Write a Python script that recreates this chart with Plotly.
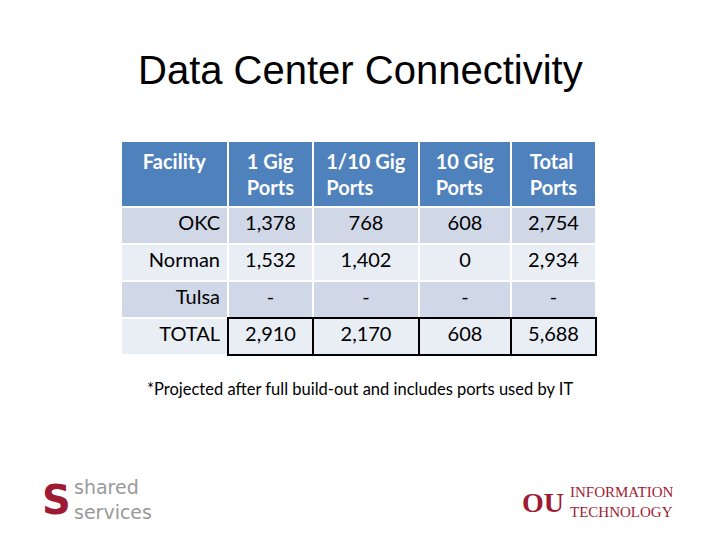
import plotly.graph_objects as go

headers = ["Facility", "1 Gig<br>Ports", "1/10 Gig<br>Ports", "10 Gig<br>Ports", "Total<br>Ports"]
facilities = ["OKC", "Norman", "Tulsa", "TOTAL"]
gig1 = ["1,378", "1,532", "-", "2,910"]
gig110 = ["768", "1,402", "-", "2,170"]
gig10 = ["608", "0", "-", "608"]
total = ["2,754", "2,934", "-", "5,688"]

W, H = 720, 540
OX, OY = 8, 8  # page offset compensation
def px(x): return (x - OX) / W
def py(y): return 1 - (y - OY) / H

rowfill = ["#D0D8E8", "#E9EDF4", "#D0D8E8", "#E9EDF4"]
font = "Lato, Open Sans, sans-serif"
first_line = ["white"] * 4
other_line = ["white", "white", "white", "black"]

fig = go.Figure(go.Table(
    columnwidth=[107, 85, 106, 92, 85],
    header=dict(values=[f"<b>{h}</b>" for h in headers], fill_color="#4F81BD",
                font=dict(color="white", size=20, family=font), align="center",
                height=63, line=dict(color="white", width=2)),
    cells=dict(values=[facilities, gig1, gig110, gig10, total],
               fill_color=[rowfill] * 5,
               font=dict(color="black", size=20, family=font),
               align=["right", "center", "center", "center", "center"],
               height=37,
               line=dict(color=[first_line] + [other_line] * 4, width=1.5)),
    domain=dict(x=[px(121), px(596)], y=[0.2, py(141)]),
))

def ann(text, x, y, size, family, color="black", xanchor="center", align="center"):
    return dict(text=text, x=px(x), y=py(y), xref="paper", yref="paper", xanchor=xanchor,
                yanchor="middle", showarrow=False, align=align,
                font=dict(family=family, size=size, color=color))

fig.update_layout(
    width=W, height=H, margin=dict(l=0, r=0, t=0, b=0),
    paper_bgcolor="white", plot_bgcolor="white",
    annotations=[
        ann("Data Center Connectivity", 360, 70, 40, "Liberation Sans, Arial"),
        ann("*Projected after full build-out and includes ports used by IT", 145, 389, 16.5, font, xanchor="left"),
        ann("<b>S</b>", 56, 500, 40, "DejaVu Sans", "#9E1B34"),
        ann("shared<br>services", 72, 499, 19, "DejaVu Sans", "#999999", xanchor="left", align="left"),
        ann("<b>OU</b>", 543, 502, 28, "Liberation Serif", "#9E1B34"),
        ann("INFORMATION<br>TECHNOLOGY", 568, 502, 15, "Liberation Serif", "#9E1B34", xanchor="left", align="left"),
    ],
)
fig.write_html("out.html")
